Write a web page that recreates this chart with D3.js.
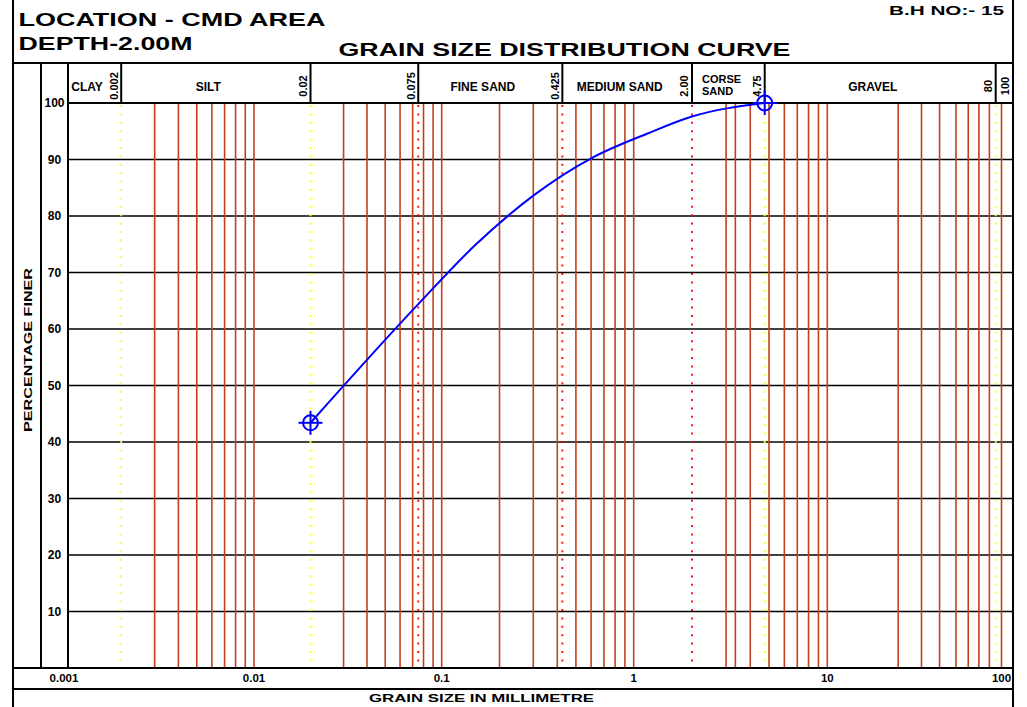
<!DOCTYPE html>
<html lang="en">
<head>
    <meta charset="UTF-8">
    <title>Grain Size Distribution Curve</title>
    <script src="https://d3js.org/d3.v7.min.js"></script>
    <style>
        body { margin: 0; background: #fff; }
        svg { display: block; font-family: "Liberation Sans", Arial, sans-serif; font-weight: bold; }
        .frame line { stroke: #000; stroke-width: 2; }
        .grid-y line { stroke: #000; stroke-width: 1.6; }
        .grid-x line { stroke: #c2401a; stroke-width: 1.6; }
        .limit { stroke-width: 1.8; stroke-dasharray: 2, 6.4; }
        .curve { fill: none; stroke: #0000ff; stroke-width: 2; }
        .marker circle, .marker line { fill: none; stroke: #0000ff; stroke-width: 2; }
    </style>
</head>
<body>
<svg width="1027" height="707"></svg>
<script>
    // title block
    var titleLines = ["LOCATION - CMD AREA", "DEPTH-2.00M"];
    var chartTitle = "GRAIN SIZE DISTRIBUTION CURVE";
    var boreHole = "B.H NO:- 15";
    var xTitle = "GRAIN  SIZE  IN  MILLIMETRE";
    var yTitle = "PERCENTAGE  FINER";

    // classification limits (mm) and the zone that ends at each limit
    var limits = [0.002, 0.02, 0.075, 0.425, 2.00, 4.75, 80];
    var limitLabels = ["0.002", "0.02", "0.075", "0.425", "2.00", "4.75", "80"];
    var zoneNames = ["CLAY", "SILT", "", "FINE SAND", "MEDIUM SAND", "CORSE SAND", "GRAVEL"];
    var yellowLimits = [0.002, 0.02, 4.75, 80];

    // axes
    var xTicks = [0.001, 0.01, 0.1, 1, 10, 100];
    var xTickLabels = ["0.001", "0.01", "0.1", "1", "10", "100"];
    var yTicks = [10, 20, 30, 40, 50, 60, 70, 80, 90, 100];

    // vertical rulings of the printed log sheet
    var gridSizes = [0.003, 0.004, 0.005, 0.006, 0.007, 0.008, 0.009, 0.01,
                     0.03, 0.04, 0.05, 0.06, 0.07, 0.08, 0.09, 0.1,
                     0.2, 0.3, 0.4, 0.5, 0.6, 0.7, 0.8, 0.9, 1,
                     3, 3.35, 4, 5, 6, 7, 8, 9, 10,
                     24, 32, 40, 49, 57, 65, 74, 100];

    // test result
    var sieveSizes = [0.02, 0.075, 0.15, 0.3, 0.6, 1.18, 2.0, 4.75];
    var percentFiner = [43.4, 64.4, 74.9, 83.6, 90.2, 94.6, 97.6, 100];
    var markedSizes = [0.02, 4.75];

    var svg = d3.select("svg");

    // sheet layout
    var left = 13, right = 1013,
        ruleTop = 63, plotBottom = 668, labelBottom = 689,
        colA = 41, colB = 68;

    // the sheet's decades are not evenly drawn, so the log scale is piecewise
    var x = d3.scaleLog()
        .domain([0.001, 0.01, 0.1, 1, 10, 80, 100])
        .range([64, 254, 441.7, 633.7, 827.3, 995.7, 1001.5]);

    var y = d3.scaleLinear()
        .domain([0, 100])
        .range([plotBottom, 103]);

    var headTop = ruleTop, headBottom = y(100);

    // horizontal grid
    svg.append("g").attr("class", "grid-y")
        .selectAll("line")
        .data(yTicks)
        .enter().append("line")
        .attr("x1", colB).attr("x2", right)
        .attr("y1", function(d) { return y(d); })
        .attr("y2", function(d) { return y(d); });

    // vertical grid
    svg.append("g").attr("class", "grid-x")
        .selectAll("line")
        .data(gridSizes)
        .enter().append("line")
        .attr("x1", function(d) { return x(d); })
        .attr("x2", function(d) { return x(d); })
        .attr("y1", headBottom).attr("y2", plotBottom);

    // dotted limit lines
    svg.append("g")
        .selectAll("line")
        .data(limits)
        .enter().append("line")
        .attr("class", "limit")
        .attr("stroke", function(d) { return yellowLimits.indexOf(d) >= 0 ? "#ffff00" : "#ff0000"; })
        .attr("x1", function(d) { return x(d); })
        .attr("x2", function(d) { return x(d); })
        .attr("y1", headBottom + 2).attr("y2", plotBottom);

    // frame
    var frame = svg.append("g").attr("class", "frame");
    function rule(x1, y1, x2, y2) {
        frame.append("line").attr("x1", x1).attr("y1", y1).attr("x2", x2).attr("y2", y2);
    }
    rule(left, 0, left, 707);
    rule(right, 0, right, 707);
    rule(left, ruleTop, right, ruleTop);
    rule(colB, headBottom, right, headBottom);
    rule(left, plotBottom, right, plotBottom);
    rule(left, labelBottom, right, labelBottom);
    rule(colA, ruleTop, colA, plotBottom);
    rule(colB, ruleTop, colB, plotBottom);
    limits.forEach(function(d) { rule(x(d), headTop, x(d), headBottom); });

    // title block text
    svg.append("text").attr("x", 18.5).attr("y", 25.5)
        .attr("font-size", 18.5).attr("textLength", 307).attr("lengthAdjust", "spacingAndGlyphs")
        .text(titleLines[0]);
    svg.append("text").attr("x", 18.5).attr("y", 49.5)
        .attr("font-size", 18.5).attr("textLength", 174).attr("lengthAdjust", "spacingAndGlyphs")
        .text(titleLines[1]);
    svg.append("text").attr("x", 338.5).attr("y", 56)
        .attr("font-size", 18).attr("textLength", 452).attr("lengthAdjust", "spacingAndGlyphs")
        .text(chartTitle);
    svg.append("text").attr("x", 889).attr("y", 14.5)
        .attr("font-size", 12.5).attr("textLength", 115).attr("lengthAdjust", "spacingAndGlyphs")
        .text(boreHole);

    // zone names; a two-word name in a narrow zone goes on two lines
    var zones = svg.append("g").attr("font-size", 12);
    zoneNames.forEach(function(name, i) {
        if (!name) return;
        var x0 = i === 0 ? colB : x(limits[i - 1]),
            x1 = x(limits[i]),
            words = name.split(" ");
        if (words.length > 1 && x1 - x0 < 80) {
            words.forEach(function(w, j) {
                zones.append("text")
                    .attr("x", x0 + 10).attr("y", 82.5 + j * 12.5)
                    .attr("font-size", 11)
                    .text(w);
            });
        } else {
            zones.append("text")
                .attr("x", (x0 + x1 - 15) / 2).attr("y", 90.5)
                .attr("text-anchor", "middle")
                .text(name);
        }
    });

    // limit values, written upward beside each limit
    var limitText = svg.append("g").attr("font-size", 11);
    limitText.selectAll("text")
        .data(limits)
        .enter().append("text")
        .attr("transform", function(d) { return "translate(" + (x(d) - 7.5) + ",86) rotate(-90)"; })
        .attr("text-anchor", "middle")
        .attr("dominant-baseline", "central")
        .text(function(d, i) { return limitLabels[i]; });
    limitText.append("text")
        .attr("transform", "translate(" + ((x(80) + right) / 2 + 0.5) + ",86) rotate(-90)")
        .attr("text-anchor", "middle")
        .attr("dominant-baseline", "central")
        .text("100");

    // y tick labels
    svg.append("g").attr("font-size", 12)
        .selectAll("text")
        .data(yTicks)
        .enter().append("text")
        .attr("x", (colA + colB) / 2)
        .attr("y", function(d) { return y(d); })
        .attr("text-anchor", "middle")
        .attr("dominant-baseline", "central")
        .text(function(d) { return d; });

    // x tick labels
    svg.append("g").attr("font-size", 11.5)
        .selectAll("text")
        .data(xTicks)
        .enter().append("text")
        .attr("x", function(d) { return x(d); })
        .attr("y", 682)
        .attr("text-anchor", "middle")
        .text(function(d, i) { return xTickLabels[i]; });

    // axis titles
    svg.append("text").attr("x", 369).attr("y", 701.5)
        .attr("font-size", 10.5).attr("textLength", 225).attr("lengthAdjust", "spacingAndGlyphs")
        .text(xTitle);
    svg.append("text")
        .attr("transform", "translate(27.5,350) rotate(-90)")
        .attr("text-anchor", "middle")
        .attr("dominant-baseline", "central")
        .attr("font-size", 11.5).attr("textLength", 164).attr("lengthAdjust", "spacingAndGlyphs")
        .text(yTitle);

    // gradation curve
    var points = sieveSizes.map(function(s, i) { return [x(s), y(percentFiner[i])]; });
    var line = d3.line().curve(d3.curveMonotoneX);
    svg.append("path").attr("class", "curve").attr("d", line(points));

    var marks = svg.selectAll(".marker")
        .data(markedSizes)
        .enter().append("g")
        .attr("class", "marker")
        .attr("transform", function(d) {
            return "translate(" + x(d) + "," + y(percentFiner[sieveSizes.indexOf(d)]) + ")";
        });
    marks.append("circle").attr("r", 7.5);
    marks.append("line").attr("x1", -12).attr("x2", 12);
    marks.append("line").attr("y1", -12).attr("y2", 12);
</script>
</body>
</html>
